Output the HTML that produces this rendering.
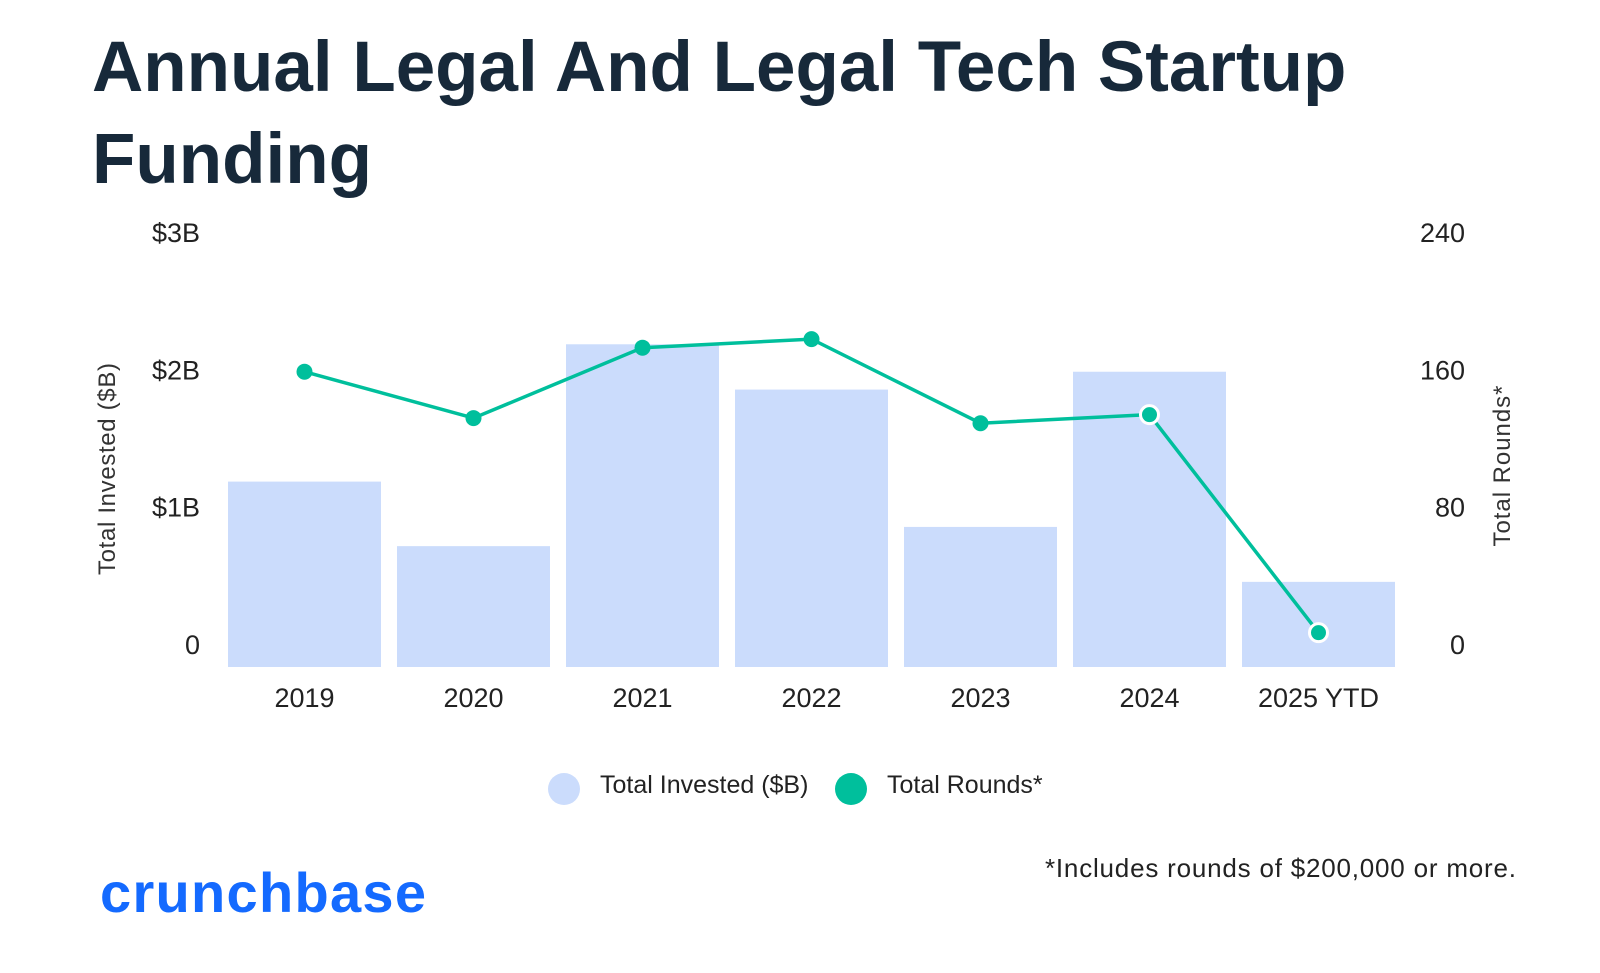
<!DOCTYPE html>
<html><head><meta charset="utf-8"><style>
body{margin:0;background:#fff;width:1600px;height:968px;overflow:hidden;font-family:"Liberation Sans",sans-serif}
</style></head><body>
<svg width="1600" height="968" viewBox="0 0 1600 968" id="c">
<text x="92" y="91" font-size="71" font-weight="bold" fill="#17293a">Annual Legal And Legal Tech Startup</text>
<text x="92" y="183" font-size="71" font-weight="bold" fill="#17293a">Funding</text>
<text transform="translate(115,469) rotate(-90)" text-anchor="middle" font-size="24" fill="#333" textLength="212">Total Invested ($B)</text>
<text transform="translate(1510,466) rotate(-90)" text-anchor="middle" font-size="24" fill="#333" textLength="161">Total Rounds*</text>
<g id="bars"></g><g id="line"></g><g id="ticks"></g>
<circle cx="564" cy="789" r="16" fill="#cbdcfc"/>
<text x="600" y="793" font-size="25" fill="#222">Total Invested ($B)</text>
<circle cx="851" cy="789" r="16" fill="#00bf9c"/>
<text x="887" y="793" font-size="25" fill="#222">Total Rounds*</text>
<text x="1045" y="877" font-size="26" fill="#222" textLength="471">*Includes rounds of $200,000 or more.</text>
<text x="100" y="912" font-size="56" font-weight="bold" fill="#146aff" textLength="326">crunchbase</text>
</svg>
<script>
const categories=["2019","2020","2021","2022","2023","2024","2025 YTD"];
const invested=[1.35,0.88,2.35,2.02,1.02,2.15,0.62];
const rounds=[172,145,186,191,142,147,20];
const leftTicks=["0","$1B","$2B","$3B"];
const rightTicks=["0","80","160","240"];
const NS="http://www.w3.org/2000/svg";
const y0=667,y3=255,x0=220,band=169,bw=153;
const yL=v=>y0-(v/3)*(y0-y3);
const yR=v=>y0-(v/240)*(y0-y3);
const xC=i=>x0+band*i+band/2;
function mk(t,a,p){const e=document.createElementNS(NS,t);for(const k in a)e.setAttribute(k,a[k]);document.getElementById(p).appendChild(e);return e;}
categories.forEach((c,i)=>{
 const r=mk('rect',{x:xC(i)-bw/2,y:yL(invested[i]),width:bw,height:y0-yL(invested[i]),fill:'#cbdcfc'},'bars');
 
 
 const t=mk('text',{x:xC(i),y:707,'text-anchor':'middle','font-size':27,fill:'#222'},'ticks');
 t.textContent=c;
 
 
});
const pl=mk('polyline',{points:rounds.map((v,i)=>xC(i)+','+yR(v)).join(' '),fill:'none',stroke:'#00bf9c','stroke-width':3.5},'line');


rounds.forEach((v,i)=>{
 const w=(i==5||i==6);
 const p=mk('circle',{cx:xC(i),cy:yR(v),r:w?9:8,fill:'#00bf9c',stroke:w?'#fff':'none','stroke-width':3},'line');
 
 
});
leftTicks.forEach((s,i)=>{
 const t=mk('text',{x:200,y:yL(i)-13,'text-anchor':'end','font-size':27,fill:'#222'},'ticks');
 t.textContent=s;
 
 
});
rightTicks.forEach((s,i)=>{
 const t=mk('text',{x:1465,y:yR(+s)-13,'text-anchor':'end','font-size':27,fill:'#222'},'ticks');
 t.textContent=s;
 
 
});
</script>
</body></html>
